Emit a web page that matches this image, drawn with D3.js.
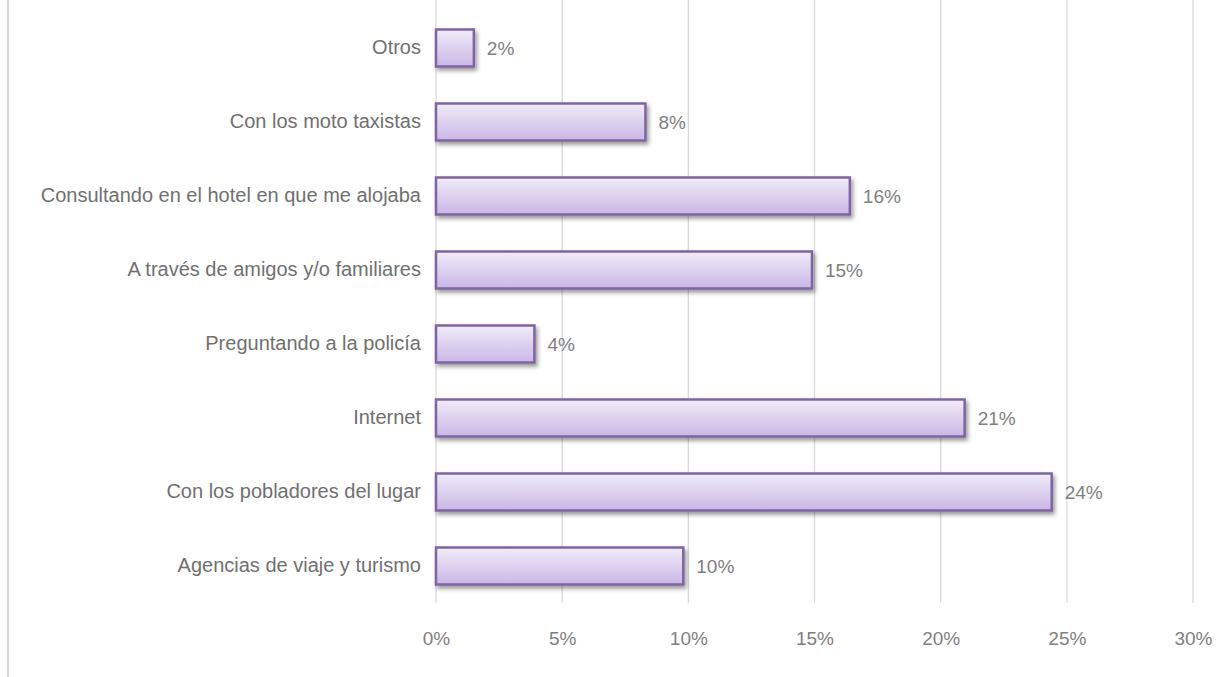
<!DOCTYPE html>
<html>
<head>
<meta charset="utf-8">
<script src="https://cdn.jsdelivr.net/npm/d3@7"></script>
<style>
  body { margin: 0; background: #fff; }
  svg { display: block; }
  text { font-family: "Liberation Sans Narrow", "Arial Narrow", "Liberation Sans", sans-serif; }
</style>
</head>
<body>
<script>
// categories from top to bottom, as drawn
let categories = [
    "Otros ",
    "Con los moto taxistas",
    "Consultando en el hotel en que me alojaba",
    "A través de amigos y/o familiares",
    "Preguntando a la policía",
    "Internet",
    "Con los pobladores del lugar",
    "Agencias de viaje y turismo"
];
let values = [1.5, 8.3, 16.4, 14.9, 3.9, 20.95, 24.4, 9.8];
let ticks = [0, 5, 10, 15, 20, 25, 30];

let width = 1232, height = 677;
let svg = d3.select("body").append("svg").attr("width", width).attr("height", height);

// chart frame (only left edge shows)
svg.append("line").attr("x1", 8).attr("x2", 8).attr("y1", 0).attr("y2", 677)
    .attr("stroke", "#d9d9d9").attr("stroke-width", 2);

let x = d3.scaleLinear().domain([0, 30]).range([436, 1193]);
let y = d3.scaleBand().domain(categories).range([11, 603]).paddingInner(0.5).paddingOuter(0.25);

let defs = svg.append("defs");
let grad = defs.append("linearGradient").attr("id", "barfill")
    .attr("x1", 0).attr("y1", 0).attr("x2", 0).attr("y2", 1);
grad.append("stop").attr("offset", "0%").attr("stop-color", "#f1ecf9");
grad.append("stop").attr("offset", "100%").attr("stop-color", "#c9b7e5");

let shadow = defs.append("filter").attr("id", "shadow")
    .attr("x", "-10%").attr("y", "-30%").attr("width", "130%").attr("height", "180%");
shadow.append("feDropShadow").attr("dx", 2).attr("dy", 3).attr("stdDeviation", 2)
    .attr("flood-color", "#000").attr("flood-opacity", 0.4);

// gridlines
svg.append("g").selectAll("line").data(ticks).join("line")
    .attr("x1", d => x(d)).attr("x2", d => x(d))
    .attr("y1", 0).attr("y2", 603)
    .attr("stroke", "#d9d9d9").attr("stroke-width", 1.3);

// x axis labels
let xAxis = svg.append("g").attr("transform", "translate(0,603)")
    .call(d3.axisBottom(x).tickValues(ticks).tickFormat(d => d + "%").tickSize(0).tickPadding(29));
xAxis.select(".domain").remove();
xAxis.selectAll("text").attr("font-size", 19).attr("fill", "#7f7f7f")
    .attr("font-family", "'Liberation Sans Narrow', 'Arial Narrow', 'Liberation Sans', sans-serif");

// y axis labels
let yAxis = svg.append("g").attr("transform", "translate(436,0)")
    .call(d3.axisLeft(y).tickSize(0).tickPadding(15));
yAxis.select(".domain").remove();
yAxis.selectAll("text").attr("font-size", 20).attr("fill", "#707070")
    .attr("font-family", "'Liberation Sans Narrow', 'Arial Narrow', 'Liberation Sans', sans-serif");

// bars
svg.append("g").selectAll("rect").data(values).join("rect")
    .attr("x", x(0))
    .attr("y", (d, i) => y(categories[i]))
    .attr("width", d => x(d) - x(0))
    .attr("height", y.bandwidth())
    .attr("fill", "url(#barfill)")
    .attr("stroke", "#8064a2")
    .attr("stroke-width", 2.5)
    .attr("filter", "url(#shadow)");

// data labels
svg.append("g").selectAll("text").data(values).join("text")
    .attr("x", d => x(d) + 13)
    .attr("y", (d, i) => y(categories[i]) + y.bandwidth() / 2)
    .attr("dy", "0.35em")
    .attr("font-size", 19).attr("fill", "#808080")
    .text(d => Math.round(d) + "%");
</script>
</body>
</html>
